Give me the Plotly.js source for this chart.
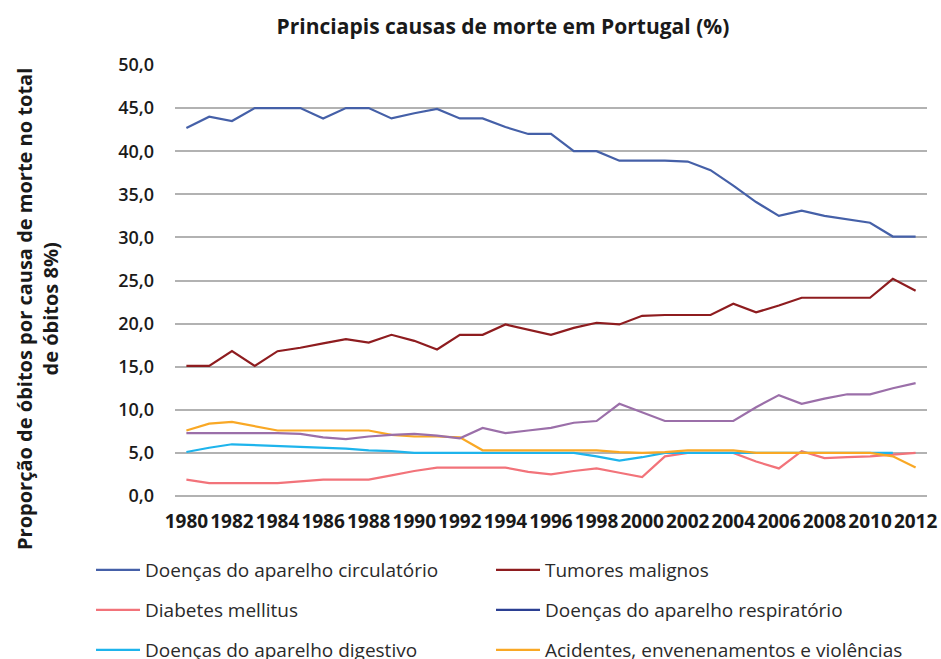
<!DOCTYPE html>
<html>
<head>
<meta charset="utf-8">
<script src="https://cdn.plot.ly/plotly-3.0.1.min.js"></script>
<style>html,body{margin:0;padding:0;background:#fff;}#chart{width:941px;height:659px;}</style>
</head>
<body>
<div id="chart"></div>
<script>
const years = [1980,1981,1982,1983,1984,1985,1986,1987,1988,1989,1990,1991,1992,1993,1994,1995,1996,1997,1998,1999,2000,2001,2002,2003,2004,2005,2006,2007,2008,2009,2010,2011,2012];
const tickYears = [1980,1982,1984,1986,1988,1990,1992,1994,1996,1998,2000,2002,2004,2006,2008,2010,2012];
const tickLabels = tickYears.map(String);

const circulatorio = [42.7,44.0,43.5,45.0,45.0,45.0,43.8,45.0,45.0,43.8,44.4,44.9,43.8,43.8,42.8,42.0,42.0,40.0,40.0,38.9,38.9,38.9,38.8,37.8,36.0,34.1,32.5,33.1,32.5,32.1,31.7,30.1,30.1];
const tumores = [15.1,15.1,16.8,15.1,16.8,17.2,17.7,18.2,17.8,18.7,18.0,17.0,18.7,18.7,19.9,19.3,18.7,19.5,20.1,19.9,20.9,21.0,21.0,21.0,22.3,21.3,22.1,23.0,23.0,23.0,23.0,25.2,23.8];
const diabetes = [1.9,1.5,1.5,1.5,1.5,1.7,1.9,1.9,1.9,2.4,2.9,3.3,3.3,3.3,3.3,2.8,2.5,2.9,3.2,2.7,2.2,4.6,5.0,5.0,5.0,4.0,3.2,5.2,4.4,4.5,4.6,4.8,5.0];
const respiratorio = [7.3,7.3,7.3,7.3,7.3,7.2,6.8,6.6,6.9,7.1,7.2,7.0,6.7,7.9,7.3,7.6,7.9,8.5,8.7,10.7,9.7,8.7,8.7,8.7,8.7,10.3,11.7,10.7,11.3,11.8,11.8,12.5,13.1];
const digestivo = [5.1,5.6,6.0,5.9,5.8,5.7,5.6,5.5,5.3,5.2,5.0,5.0,5.0,5.0,5.0,5.0,5.0,5.0,4.6,4.1,4.5,5.0,5.0,5.0,5.0,5.0,5.0,5.0,5.0,5.0,5.0,5.0,null];
const acidentes = [7.6,8.4,8.6,8.1,7.6,7.6,7.6,7.6,7.6,7.1,6.9,6.9,6.8,5.3,5.3,5.3,5.3,5.3,5.3,5.1,5.0,5.1,5.3,5.3,5.3,5.0,5.0,5.0,5.0,5.0,5.0,4.6,3.3];

const yTitle = 'Proporção de óbitos por causa de morte no total<br>de óbitos 8%)';

const lw = 2.2;
const traces = [
  {x: years, y: circulatorio, name: 'Doenças do aparelho circulatório', legend: 'legend', legendgroup: 'g1', line: {color: '#4560a8', width: lw}},
  {x: years, y: diabetes, name: 'Diabetes mellitus', legend: 'legend', legendgroup: 'g2', line: {color: '#f2737a', width: lw}},
  {x: years, y: digestivo, name: 'Doenças do aparelho digestivo', legend: 'legend', legendgroup: 'g3', line: {color: '#1eb4ec', width: lw}},
  {x: years, y: tumores, name: 'Tumores malignos', legend: 'legend2', legendgroup: 'g4', line: {color: '#8e1c1f', width: lw}},
  {x: [years[0]], y: [null], name: 'Doenças do aparelho respiratório', legend: 'legend2', legendgroup: 'g5', line: {color: '#2b3f92', width: lw}},
  {x: years, y: acidentes, name: 'Acidentes, envenenamentos e violências', legend: 'legend2', legendgroup: 'g6', line: {color: '#f9a825', width: lw}},
  {x: years, y: respiratorio, name: 'Doenças do aparelho respiratório', showlegend: false, legendgroup: 'g5', line: {color: '#9b6fa9', width: lw}}
].map(t => Object.assign({type: 'scatter', mode: 'lines', hoverinfo: 'x+y+name'}, t));

const legendFont = {family: 'Open Sans, sans-serif', size: 19, color: '#2a2a2a'};
const legendTop = 1 - 551/659;
const layout = {
  width: 941, height: 659,
  paper_bgcolor: '#ffffff', plot_bgcolor: '#ffffff',
  separators: ',.',
  margin: {l: 175, r: 14, t: 65, b: 163, autoexpand: false},
  title: {text: 'Princiapis causas de morte em Portugal (%)', x: 0.5345, xref: 'container', y: 1 - 27/659, yref: 'container', yanchor: 'middle', xanchor: 'center',
    font: {family: 'Open Sans, sans-serif', size: 21, weight: 'bold', color: '#1a1a1a'}},
  xaxis: {type: 'linear', range: [1979.5, 2012.5], tickmode: 'array', tickvals: tickYears, ticktext: tickLabels, tickangle: 0,
    showgrid: false, zeroline: false, showline: false, ticks: '', ticklabelstandoff: 12, automargin: false,
    tickfont: {family: 'Open Sans, sans-serif', size: 19, weight: 'bold', color: '#1a1a1a'}},
  yaxis: {range: [0, 50], tickmode: 'linear', tick0: 0, dtick: 5, tickformat: '.1f', automargin: false,
    showgrid: true, gridcolor: '#b2b2b2', gridwidth: 2, zeroline: true, zerolinecolor: '#b2b2b2', zerolinewidth: 2,
    showline: false, ticks: '', ticklabelstandoff: 20,
    tickfont: {family: 'Open Sans, sans-serif', size: 18, weight: 600, color: '#1a1a1a'}},
  annotations: [{text: yTitle, xref: 'paper', yref: 'paper', x: (37 - 175) / 752, y: (496 - 309) / 431,
    xanchor: 'center', yanchor: 'middle', textangle: -90, showarrow: false, align: 'center',
    font: {family: 'Open Sans, sans-serif', size: 20, weight: 'bold', color: '#1a1a1a'}}],
  legend: {orientation: 'v', xref: 'container', yref: 'container', x: 91/941, y: legendTop, xanchor: 'left', yanchor: 'top',
    itemwidth: 44, tracegroupgap: 12.3, font: legendFont, bgcolor: 'rgba(0,0,0,0)'},
  legend2: {orientation: 'v', xref: 'container', yref: 'container', x: 491/941, y: legendTop, xanchor: 'left', yanchor: 'top',
    itemwidth: 44, tracegroupgap: 12.3, font: legendFont, bgcolor: 'rgba(0,0,0,0)'},
  showlegend: true
};

Plotly.newPlot('chart', traces, layout, {displayModeBar: false, staticPlot: true});
</script>
</body>
</html>
